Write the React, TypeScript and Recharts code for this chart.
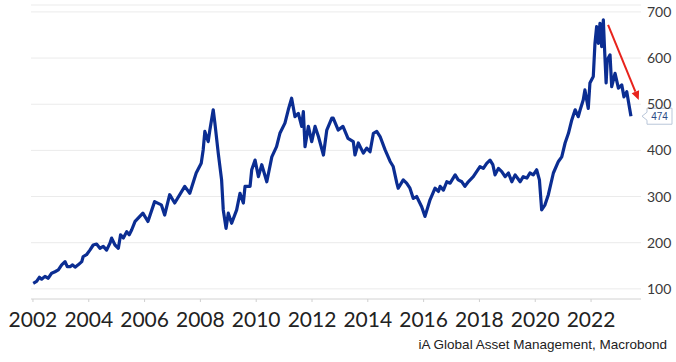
import React from "react";
import {
  LineChart,
  Line,
  XAxis,
  YAxis,
  CartesianGrid,
  ReferenceLine,
} from "recharts";

const years: number[] = [
  2002.01, 2002.13, 2002.23, 2002.31, 2002.43, 2002.55, 2002.67, 2002.79, 2002.91, 2003.03,
  2003.15, 2003.23, 2003.33, 2003.42, 2003.51, 2003.62, 2003.75, 2003.8, 2003.92, 2004.04,
  2004.16, 2004.28, 2004.4, 2004.52, 2004.64, 2004.76, 2004.82, 2004.94, 2005.06, 2005.14,
  2005.24, 2005.36, 2005.45, 2005.54, 2005.66, 2005.94, 2006.12, 2006.36,
  2006.6, 2006.72, 2006.9, 2007.08, 2007.44, 2007.62, 2007.85, 2008.03, 2008.1, 2008.16,
  2008.28, 2008.34, 2008.46, 2008.52, 2008.64, 2008.76, 2008.82, 2008.92, 2009.0, 2009.12,
  2009.3, 2009.42, 2009.54, 2009.6, 2009.78, 2009.84, 2009.96, 2010.08, 2010.2, 2010.38,
  2010.56, 2010.73, 2010.85, 2011.03, 2011.15, 2011.27, 2011.39, 2011.51, 2011.63, 2011.69,
  2011.75, 2011.87, 2011.99, 2012.11, 2012.23, 2012.41, 2012.53, 2012.71, 2012.76, 2012.94,
  2013.11, 2013.29, 2013.48, 2013.54, 2013.66, 2013.84, 2013.96, 2014.08, 2014.2, 2014.32,
  2014.44, 2014.62, 2014.8, 2014.91, 2015.04, 2015.09, 2015.27, 2015.39, 2015.51, 2015.63,
  2015.75, 2015.93, 2016.05, 2016.23, 2016.41, 2016.53, 2016.59, 2016.71, 2016.83, 2016.95,
  2017.13, 2017.24, 2017.37, 2017.48, 2017.6, 2017.78, 2017.9, 2018.02, 2018.14, 2018.26,
  2018.38, 2018.48, 2018.56, 2018.68, 2018.8, 2018.92, 2019.04, 2019.16, 2019.28, 2019.46,
  2019.57, 2019.7, 2019.81, 2019.93, 2020.05, 2020.15, 2020.23, 2020.35,
  2020.47, 2020.65, 2020.83, 2020.95, 2021.07, 2021.19, 2021.31, 2021.43, 2021.54, 2021.61,
  2021.72, 2021.78, 2021.9, 2021.96, 2022.08, 2022.14, 2022.2, 2022.26, 2022.32, 2022.38,
  2022.44, 2022.48, 2022.54, 2022.58, 2022.68, 2022.74, 2022.86, 2022.98, 2023.1, 2023.18,
  2023.28, 2023.37, 2023.43,
];

const values: number[] = [
  112, 116, 125, 121, 127, 123, 134, 137, 141, 152,
  159, 148, 148, 152, 147, 152, 159, 170, 174, 184,
  195, 197, 188, 192, 184, 199, 210, 195, 188, 217,
  210, 224, 217, 228, 246, 264, 246, 289,
  282, 260, 304, 286, 322, 307, 351, 372, 401, 441,
  419, 444, 488, 459, 394, 336, 271, 231, 264, 242,
  271, 307, 286, 322, 322, 358, 379, 343, 369, 332,
  386, 408, 437, 459, 488, 513, 473, 480, 452, 484,
  408, 452, 419, 452, 430, 390, 444, 470, 470, 444,
  452, 426, 419, 390, 416, 394, 405, 397, 437, 441,
  430, 401, 376, 365, 329, 318, 336, 329, 318, 296,
  300, 278, 257, 293, 318, 311, 322, 314, 332, 329,
  347, 336, 332, 322, 332, 343, 354, 365, 361, 372,
  379, 369, 347, 361, 354, 343, 351, 332, 347, 332,
  343, 340, 351, 347, 358, 336, 271, 282,
  304, 351, 376, 386, 416, 437, 466, 488, 473, 488,
  509, 531, 491, 546, 560, 632, 668, 632, 675, 625,
  683, 625, 546, 596, 607, 538, 567, 535, 542, 516,
  527, 495, 474,
];

const xTicks: number[] = [2002, 2004, 2006, 2008, 2010, 2012, 2014, 2016, 2018, 2020, 2022];
const yTicks: number[] = [100, 200, 300, 400, 500, 600, 700];

const arrowStart = { x: 2022.61, y: 672 };
const arrowEnd = { x: 2023.71, y: 509 };

const lastValue = values[values.length - 1];
const sourceText = "iA Global Asset Management, Macrobond";

const data = years.map((y, i) => ({ year: y, value: values[i] }));

const ArrowShape = (props: any) => {
  const { x1, y1, x2, y2 } = props;
  const ang = Math.atan2(y2 - y1, x2 - x1);
  const len = 9;
  const w = 4;
  const bx = x2 - len * Math.cos(ang);
  const by = y2 - len * Math.sin(ang);
  const px = -Math.sin(ang) * w;
  const py = Math.cos(ang) * w;
  return (
    <g>
      <line x1={x1} y1={y1} x2={bx} y2={by} stroke="#e8231c" strokeWidth={2} />
      <polygon
        points={`${x2},${y2} ${bx + px},${by + py} ${bx - px},${by - py}`}
        fill="#e8231c"
      />
    </g>
  );
};

const Callout = (props: any) => {
  const vb = props.viewBox || {};
  const x0 = vb.x + vb.width + 1;
  const y0 = vb.y;
  const h = 16;
  const left = x0 + 5;
  const right = x0 + 30;
  const d = `M${x0},${y0} L${left},${y0 - 4} L${left},${y0 - h / 2} L${right},${y0 - h / 2} L${right},${y0 + h / 2} L${left},${y0 + h / 2} L${left},${y0 + 4} Z`;
  return (
    <g>
      <path d={d} fill="#ffffff" stroke="#b9c6d9" strokeWidth={1} />
      <text
        x={(left + right) / 2}
        y={y0 + 3.5}
        textAnchor="middle"
        fontSize={10}
        fontFamily="Liberation Sans, Arial, sans-serif"
        fill="#2b4a86"
      >
        {lastValue}
      </text>
    </g>
  );
};

export default function App() {
  return (
    <div style={{ position: "absolute", left: 0, top: 0, width: 676, height: 362, background: "#fff" }}>
      <LineChart
        width={676}
        height={362}
        data={data}
        margin={{ top: 5, right: 0, left: 31, bottom: 0 }}
      >
        <CartesianGrid horizontal={true} vertical={false} stroke="#ebebeb" strokeWidth={1} />
        <XAxis
          dataKey="year"
          type="number"
          domain={[2001.93, 2023.79]}
          allowDataOverflow
          ticks={xTicks}
          interval={0}
          height={63}
          tickSize={3}
          tickMargin={10}
          axisLine={{ stroke: "#dcdcdc" }}
          tickLine={{ stroke: "#d0d0d0" }}
          tick={{ fontSize: 21, fill: "#222", fontFamily: "Lato, sans-serif" }}
        />
        <YAxis
          orientation="right"
          type="number"
          domain={[78, 715]}
          allowDataOverflow
          ticks={yTicks}
          interval={0}
          width={35}
          axisLine={false}
          tickLine={false}
          tickSize={4}
          tickMargin={2}
          tick={{ fontSize: 14, fill: "#3a3a3a", fontFamily: "Lato, sans-serif", textAnchor: "start" }}
        />
        <Line
          type="linear"
          dataKey="value"
          stroke="#0b2d92"
          strokeWidth={3.2}
          dot={false}
          strokeLinejoin="round"
          isAnimationActive={false}
        />
        <ReferenceLine
          segment={[arrowStart, arrowEnd]}
          shape={ArrowShape}
          ifOverflow="visible"
        />
        <ReferenceLine y={lastValue} stroke="none" ifOverflow="visible" label={<Callout />} />
      </LineChart>
      <div
        style={{
          position: "absolute",
          right: 9,
          top: 337,
          fontSize: 13.5,
          fontFamily: "Liberation Sans, Arial, sans-serif",
          color: "#222",
          whiteSpace: "nowrap",
          lineHeight: "15px",
        }}
      >
        {sourceText}
      </div>
    </div>
  );
}
